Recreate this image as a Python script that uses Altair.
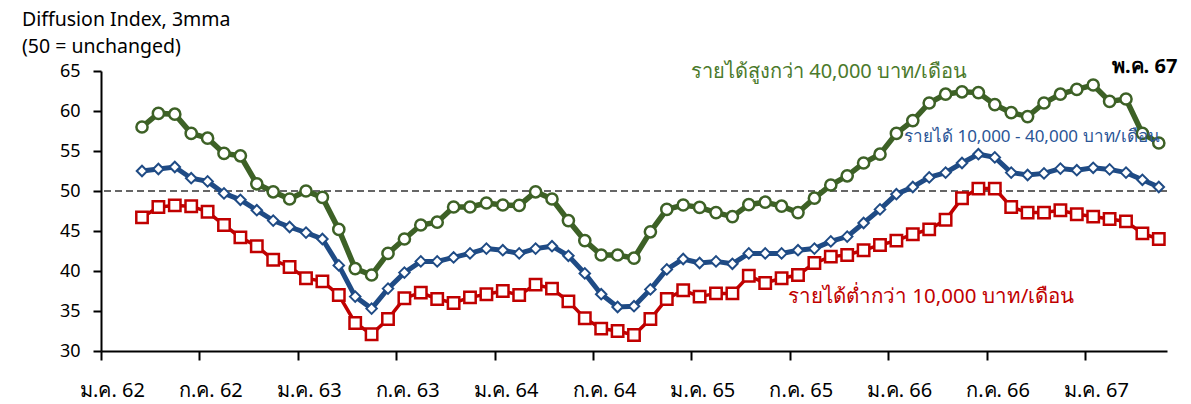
import altair as alt
import pandas as pd

# Tick labels (every 6 months, Thai Buddhist-era years)
tick_labels = ["ม.ค. 62", "ก.ค. 62", "ม.ค. 63", "ก.ค. 63", "ม.ค. 64", "ก.ค. 64",
               "ม.ค. 65", "ก.ค. 65", "ม.ค. 66", "ก.ค. 66", "ม.ค. 67"]

# Monthly series, Mar 62 .. May 67
high_income = [58.0, 59.7, 59.6, 57.2, 56.6, 54.7, 54.4, 50.9, 49.9, 49.0,
               50.0, 49.2, 45.2, 40.3, 39.5, 42.2, 44.0, 45.75, 46.1, 48.0, 48.0, 48.5,
               48.25, 48.2, 49.9, 49.0, 46.3, 43.8, 42.0, 42.0, 41.6, 44.9, 47.7, 48.25,
               47.95, 47.3, 46.8, 48.3, 48.6, 48.1, 47.3, 49.1, 50.75, 51.9, 53.5, 54.6,
               57.2, 58.8, 61.0, 62.1, 62.4, 62.3, 60.8, 59.8, 59.3, 61.0, 62.1, 62.7,
               63.25, 61.2, 61.5, 57.2, 56.0]
mid_income = [52.5, 52.75, 53.0, 51.6, 51.2, 49.7, 48.9, 47.6, 46.3, 45.5,
              44.8, 44.0, 40.7, 36.8, 35.3, 37.8, 39.8, 41.2, 41.2, 41.7, 42.2, 42.8,
              42.6, 42.2, 42.8, 43.1, 41.9, 39.7, 37.1, 35.5, 35.6, 37.7, 40.2, 41.5,
              41.0, 41.2, 40.9, 42.2, 42.2, 42.2, 42.6, 42.8, 43.7, 44.3, 46.0, 47.7,
              49.6, 50.5, 51.7, 52.3, 53.5, 54.6, 54.2, 52.3, 52.0, 52.2, 52.8, 52.6,
              52.9, 52.7, 52.3, 51.4, 50.5]
low_income = [46.7, 48.0, 48.2, 48.1, 47.4, 45.75, 44.2, 43.1, 41.4, 40.5,
              39.1, 38.7, 37.0, 33.5, 32.1, 34.0, 36.6, 37.3, 36.5, 36.0, 36.7, 37.1,
              37.5, 37.0, 38.3, 37.8, 36.2, 34.1, 32.8, 32.5, 32.0, 34.0, 36.5, 37.6,
              36.8, 37.2, 37.2, 39.4, 38.5, 39.1, 39.5, 41.0, 41.8, 42.0, 42.6, 43.25,
              43.8, 44.6, 45.2, 46.4, 49.1, 50.3, 50.3, 48.0, 47.3, 47.3, 47.6, 47.1,
              46.8, 46.5, 46.2, 44.7, 44.0]
first_month_index = 2   # March 62 (Jan 62 = 0)
total_months = 65       # Jan 62 .. May 67
reference_level = [50]

label_high = "รายได้สูงกว่า 40,000 บาท/เดือน"
label_mid = "รายได้ 10,000 - 40,000 บาท/เดือน"
label_low = "รายได้ต่ำกว่า 10,000 บาท/เดือน"
title_1 = "Diffusion Index, 3mma"
title_2 = "(50 = unchanged)"
latest = "พ.ค. 67"

GREEN = "#3d6126"
GREEN_TXT = "#4b7a2c"
BLUE = "#1f4b85"
BLUE_TXT = "#2a5596"
RED = "#c00000"
FONT = "Noto Sans"


def frame(vals):
    return pd.DataFrame({"t": [first_month_index + k + 0.5 for k in range(len(vals))],
                         "v": vals})


label_expr = "[" + ",".join("'" + s + "'" for s in tick_labels) + "][datum.value/6]"

x_enc = alt.X("t:Q",
              scale=alt.Scale(domain=[0, total_months], nice=False, zero=False),
              axis=alt.Axis(values=list(range(0, 61, 6)), labelExpr=label_expr,
                            title=None, grid=False, tickSize=9, tickWidth=2,
                            tickColor="black", domainColor="black", domainWidth=2,
                            labelFontSize=20, labelPadding=20, labelOffset=11,
                            labelColor="black", labelFont=FONT, labelFlush=False,
                            labelOverlap=False))
y_enc = alt.Y("v:Q",
              scale=alt.Scale(domain=[30, 65], nice=False, zero=False),
              axis=alt.Axis(values=list(range(30, 66, 5)), title=None, grid=False,
                            tickSize=8, tickWidth=2, tickColor="black",
                            domainColor="black", domainWidth=2, labelFontSize=18,
                            labelPadding=13, labelColor="black", labelFont=FONT,
                            labelOverlap=False, labelFlush=False))


def series(vals, color, width, shape, size, sw):
    base = alt.Chart(frame(vals))
    line = base.mark_line(color=color, strokeWidth=width).encode(x=x_enc, y=y_enc)
    pts = base.mark_point(shape=shape, size=size, filled=True, fill="white",
                          stroke=color, strokeWidth=sw, opacity=1).encode(x=x_enc, y=y_enc)
    return line + pts


ref = alt.Chart(pd.DataFrame({"v": reference_level})).mark_rule(
    color="#666666", strokeWidth=2, strokeDash=[7, 4]).encode(y=y_enc)


def text(s, x, y, size, color, bold=False):
    return alt.Chart(pd.DataFrame({"s": [s]})).mark_text(
        align="left", baseline="alphabetic", fontSize=size, color=color, font=FONT,
        fontWeight="bold" if bold else "normal").encode(
        text="s:N", x=alt.value(x), y=alt.value(y))


chart = alt.layer(
    ref,
    series(low_income, RED, 3.5, "square", 130, 2.5),
    series(mid_income, BLUE, 5, "diamond", 110, 2),
    series(high_income, GREEN, 5.5, "circle", 125, 2.5),
    text(title_1, -79, -45, 19.5, "black"),
    text(title_2, -79, -18, 19.5, "black"),
    text(latest, 1011, 2, 20, "black", True),
    text(label_high, 590, 7, 20, GREEN_TXT),
    text(label_mid, 803, 71, 17, BLUE_TXT),
    text(label_low, 687, 232, 20.5, RED),
).properties(
    width=1066, height=280,
    autosize=alt.AutoSizeParams(type="none"),
    padding={"left": 93, "top": 63, "right": 16, "bottom": 53},
).configure_view(stroke=None)

chart.save("out.html", embed_options={"renderer": "svg", "actions": False})
